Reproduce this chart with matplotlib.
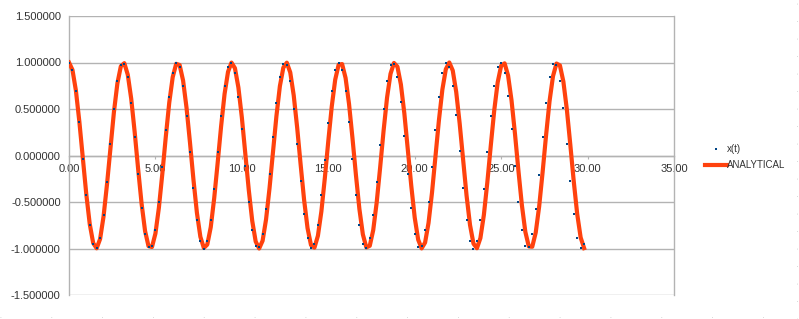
import matplotlib.pyplot as plt
from matplotlib.lines import Line2D

plt.rcParams['font.family'] = ['Liberation Sans', 'DejaVu Sans']

# time samples (dt = 0.2)
t = [0.0, 0.2, 0.4, 0.6, 0.8, 1.0, 1.2, 1.4, 1.6, 1.8,
     2.0, 2.2, 2.4, 2.6, 2.8, 3.0, 3.2, 3.4, 3.6, 3.8,
     4.0, 4.2, 4.4, 4.6, 4.8, 5.0, 5.2, 5.4, 5.6, 5.8,
     6.0, 6.2, 6.4, 6.6, 6.8, 7.0, 7.2, 7.4, 7.6, 7.8,
     8.0, 8.2, 8.4, 8.6, 8.8, 9.0, 9.2, 9.4, 9.6, 9.8,
     10.0, 10.2, 10.4, 10.6, 10.8, 11.0, 11.2, 11.4, 11.6, 11.8,
     12.0, 12.2, 12.4, 12.6, 12.8, 13.0, 13.2, 13.4, 13.6, 13.8,
     14.0, 14.2, 14.4, 14.6, 14.8, 15.0, 15.2, 15.4, 15.6, 15.8,
     16.0, 16.2, 16.4, 16.6, 16.8, 17.0, 17.2, 17.4, 17.6, 17.8,
     18.0, 18.2, 18.4, 18.6, 18.8, 19.0, 19.2, 19.4, 19.6, 19.8,
     20.0, 20.2, 20.4, 20.6, 20.8, 21.0, 21.2, 21.4, 21.6, 21.8,
     22.0, 22.2, 22.4, 22.6, 22.8, 23.0, 23.2, 23.4, 23.6, 23.8,
     24.0, 24.2, 24.4, 24.6, 24.8, 25.0, 25.2, 25.4, 25.6, 25.8,
     26.0, 26.2, 26.4, 26.6, 26.8, 27.0, 27.2, 27.4, 27.6, 27.8,
     28.0, 28.2, 28.4, 28.6, 28.8, 29.0, 29.2, 29.4, 29.6, 29.8]

# numerical solution x(t)
x_num = [1.000, 0.920, 0.693, 0.355, -0.040, -0.428, -0.747, -0.948, -0.997, -0.886,
         -0.636, -0.280, 0.120, 0.500, 0.799, 0.971, 0.987, 0.846, 0.569, 0.201,
         -0.199, -0.567, -0.845, -0.987, -0.971, -0.802, -0.502, -0.122, 0.277, 0.631,
         0.885, 0.997, 0.949, 0.750, 0.430, 0.042, -0.353, -0.691, -0.920, -1.000,
         -0.920, -0.690, -0.355, 0.038, 0.426, 0.747, 0.948, 0.997, 0.887, 0.634,
         0.281, -0.118, -0.498, -0.798, -0.970, -0.987, -0.846, -0.571, -0.203, 0.197,
         0.566, 0.844, 0.987, 0.972, 0.801, 0.503, 0.124, -0.275, -0.629, -0.884,
         -0.996, -0.950, -0.751, -0.430, -0.044, 0.351, 0.690, 0.919, 1.000, 0.921,
         0.696, 0.359, -0.036, -0.425, -0.745, -0.947, -0.997, -0.888, -0.638, -0.284,
         0.116, 0.497, 0.797, 0.970, 0.988, 0.848, 0.572, 0.205, -0.195, -0.564,
         -0.843, -0.986, -0.972, -0.804, -0.505, -0.126, 0.273, 0.628, 0.883, 0.996,
         0.950, 0.752, 0.434, 0.046, -0.349, -0.689, -0.918, -1.000, -0.922, -0.693,
         -0.359, 0.034, 0.423, 0.745, 0.947, 0.997, 0.888, 0.637, 0.284, -0.114,
         -0.495, -0.796, -0.969, -0.988, -0.848, -0.574, -0.207, 0.194, 0.563, 0.842,
         0.986, 0.973, 0.804, 0.507, 0.127, -0.271, -0.627, -0.882, -0.996, -0.951]

# analytical curve
x_ana = [1.000, 0.921, 0.697, 0.362, -0.029, -0.416, -0.737, -0.942, -0.998, -0.897,
         -0.654, -0.307, 0.087, 0.469, 0.776, 0.960, 0.993, 0.869, 0.609, 0.251,
         -0.146, -0.519, -0.811, -0.975, -0.984, -0.839, -0.562, -0.194, 0.202, 0.569,
         0.843, 0.986, 0.973, 0.806, 0.512, 0.137, -0.260, -0.616, -0.874, -0.994,
         -0.958, -0.771, -0.459, -0.080, 0.315, 0.662, 0.900, 0.999, 0.939, 0.731,
         0.408, 0.020, -0.370, -0.703, -0.925, -1.000, -0.917, -0.687, -0.353, 0.038,
         0.424, 0.746, 0.945, 0.998, 0.893, 0.647, 0.299, -0.097, -0.476, -0.781,
         -0.963, -0.991, -0.863, -0.602, -0.243, 0.154, 0.526, 0.815, 0.977, 0.983,
         0.834, 0.554, 0.186, -0.211, -0.576, -0.848, -0.988, -0.971, -0.802, -0.505,
         -0.129, 0.268, 0.623, 0.878, 0.995, 0.955, 0.764, 0.453, 0.070, -0.324,
         -0.668, -0.905, -0.999, -0.936, -0.724, -0.400, -0.011, 0.378, 0.709, 0.928,
         1.000, 0.914, 0.684, 0.345, -0.047, -0.432, -0.748, -0.948, -0.997, -0.888,
         -0.640, -0.290, 0.105, 0.484, 0.787, 0.965, 0.991, 0.861, 0.594, 0.234,
         -0.163, -0.534, -0.821, -0.978, -0.981, -0.829, -0.547, -0.177, 0.219, 0.584,
         0.853, 0.989, 0.969, 0.795, 0.497, 0.119, -0.277, -0.629, -0.882, -0.996]

x_ticks = [0, 5, 10, 15, 20, 25, 30, 35]
y_ticks = [-1.5, -1.0, -0.5, 0.0, 0.5, 1.0, 1.5]

grid_col = '#b3b3b3'
text_col = '#333333'

fig = plt.figure(figsize=(7.99, 3.19), dpi=100)
ax = fig.add_axes([69 / 799, 1 - 295 / 319, 605 / 799, 279 / 319])

ax.plot(t, x_ana, color='#ff420e', linewidth=3.0, label='ANALYTICAL', zorder=3,
        solid_joinstyle='round')
ax.plot(t, x_num, linestyle='none', marker='s', markersize=2.0, color='#004586',
        markeredgewidth=0, label='x(t)', zorder=4)

ax.set_xlim(0, 35)
ax.set_ylim(-1.5, 1.5)
ax.set_xticks(x_ticks)
ax.set_yticks(y_ticks)
ax.set_xticklabels(['%.2f' % v for v in x_ticks])
ax.set_yticklabels(['%.6f' % v for v in y_ticks])

ax.yaxis.grid(True, color=grid_col, linewidth=1.0)
ax.set_axisbelow(True)

ax.spines['bottom'].set_position(('data', 0))
for s in ['left', 'right', 'bottom', 'top']:
    ax.spines[s].set_color(grid_col)
    ax.spines[s].set_linewidth(1.0)
ax.spines['top'].set_visible(False)

ax.tick_params(axis='x', colors=grid_col, length=2, direction='out', pad=4,
               labelsize=8, labelcolor=text_col)
ax.tick_params(axis='y', length=0, pad=6, labelsize=8, labelcolor=text_col)

# legend, ordered like the reference
handles, labels = ax.get_legend_handles_labels()
leg = ax.legend(handles[::-1], labels[::-1], loc='center left',
                bbox_to_anchor=(1.044, 0.494), frameon=False, fontsize=7,
                handlelength=2.3, handletextpad=0.0, labelspacing=0.6,
                markerscale=1.0, borderaxespad=0.0)
for txt in leg.get_texts():
    txt.set_color(text_col)

# faint page border dots
fig.add_artist(Line2D([0, 1], [0.006, 0.006], transform=fig.transFigure,
                      color='#cccccc', linewidth=0.6, linestyle=(0, (1, 60))))
fig.add_artist(Line2D([0.998, 0.998], [0, 1], transform=fig.transFigure,
                      color='#cccccc', linewidth=0.6, linestyle=(0, (1, 20))))

fig.savefig('out.png', dpi=100)
